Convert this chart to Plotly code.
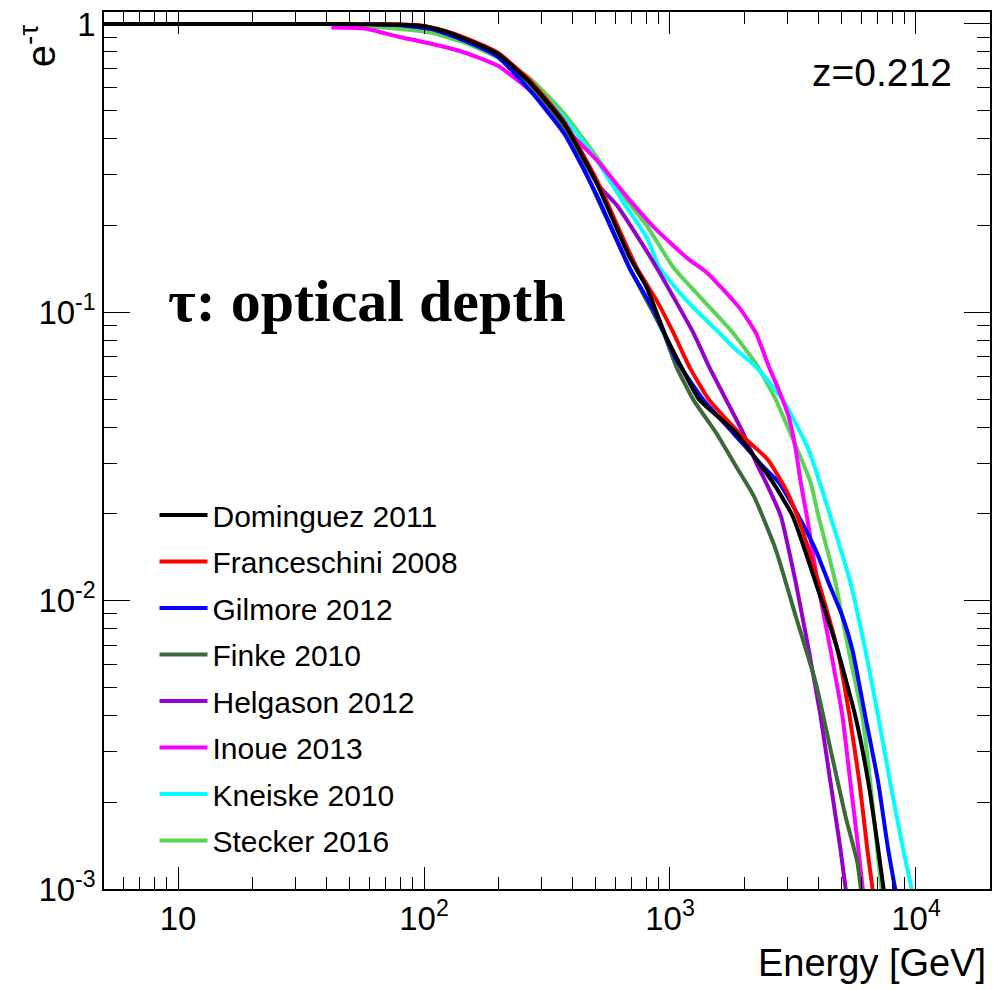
import plotly.graph_objects as go

# ---------------- data ----------------
names = ["Dominguez 2011", "Franceschini 2008", "Gilmore 2012", "Finke 2010",
         "Helgason 2012", "Inoue 2013", "Kneiske 2010", "Stecker 2016"]
colors = ["#000000", "#ff0000", "#0000ff", "#3a6a3a",
          "#9400cc", "#ff00ff", "#00ffff", "#59d454"]

e_dominguez = [5.0, 40, 60, 80, 97, 120, 146, 199, 270, 371, 504, 686, 804, 950, 1112,
               1316, 1857, 2620, 3157, 3908, 4793, 5670, 6400, 7020, 7430]
t_dominguez = [1.0, 1.0, 0.998, 0.993, 0.985, 0.945, 0.889, 0.789, 0.626, 0.452, 0.280,
               0.155, 0.122, 0.0848, 0.0647, 0.0497, 0.0382, 0.0257, 0.0196, 0.01157,
               0.00678, 0.00398, 0.00235, 0.00138, 0.000963]

e_franceschini = [57, 80, 97, 120, 146, 199, 270, 371, 504, 732, 882, 1033, 1199, 1443,
                  1910, 2500, 2958, 3337, 4018, 4793, 5370, 5890, 6340, 6700]
t_franceschini = [1.0, 0.996, 0.988, 0.950, 0.897, 0.796, 0.636, 0.459, 0.287, 0.143,
                  0.110, 0.0848, 0.0647, 0.0497, 0.0382, 0.0308, 0.0243, 0.0191, 0.01157,
                  0.00678, 0.00398, 0.00235, 0.00138, 0.000963]

e_gilmore = [60, 80, 110, 146, 199, 270, 371, 504, 686, 858, 1062, 1365, 1805, 2388,
             2770, 3337, 3908, 4410, 5024, 5510, 6220, 7020, 7700, 8300]
t_gilmore = [1.0, 0.99, 0.955, 0.875, 0.771, 0.588, 0.417, 0.255, 0.142, 0.102, 0.0684,
             0.0497, 0.0382, 0.0292, 0.0257, 0.0196, 0.0150, 0.01157, 0.00883, 0.00678,
             0.00398, 0.00235, 0.00138, 0.000963]

e_finke = [60, 80, 110, 146, 199, 270, 371, 504, 686, 804, 942, 1062, 1245, 1541, 1857,
           2195, 2694, 3246, 3908, 4490, 5168, 5775, 6000]
t_finke = [1.0, 0.993, 0.96, 0.889, 0.783, 0.617, 0.438, 0.251, 0.142, 0.110, 0.0848,
           0.0647, 0.0497, 0.0382, 0.0292, 0.0230, 0.0150, 0.00883, 0.00522, 0.00306,
           0.00179, 0.00124, 0.000963]

e_helgason = [60, 80, 110, 146, 199, 270, 371, 504, 608, 766, 882, 1245, 1443, 1692, 1982,
              2278, 2455, 2825, 3040, 3246, 3661, 4093, 4490, 4930, 5210]
t_helgason = [1.0, 0.993, 0.96, 0.889, 0.789, 0.626, 0.445, 0.280, 0.235, 0.174, 0.143,
              0.0848, 0.0647, 0.0497, 0.0382, 0.0292, 0.0257, 0.0196, 0.0150, 0.01157,
              0.00678, 0.00398, 0.00235, 0.00138, 0.000963]

e_inoue = [42, 58, 78, 106, 146, 199, 270, 371, 504, 686, 882, 1199, 1404, 1910, 2235,
           2524, 2770, 3040, 3246, 3400, 3622, 3981, 4490, 5024, 5410, 5830, 6110]
t_inoue = [0.971, 0.963, 0.905, 0.855, 0.796, 0.717, 0.588, 0.438, 0.337, 0.245, 0.193,
           0.152, 0.138, 0.104, 0.0848, 0.0647, 0.0538, 0.0434, 0.0334, 0.0257, 0.0191,
           0.01157, 0.00678, 0.00398, 0.00235, 0.00138, 0.000963]

e_kneiske = [60, 80, 110, 146, 199, 270, 371, 504, 637, 804, 906, 1167, 1585, 1857, 2235,
             2877, 3661, 4490, 5410, 6220, 7020, 7850, 8860, 9700]
t_kneiske = [1.0, 0.993, 0.96, 0.889, 0.789, 0.626, 0.474, 0.337, 0.245, 0.182, 0.143,
             0.110, 0.0848, 0.0741, 0.0647, 0.0497, 0.0334, 0.0196, 0.01157, 0.00678,
             0.00398, 0.00235, 0.00138, 0.000963]

e_stecker = [49, 78, 106, 146, 199, 270, 371, 504, 667, 804, 1033, 1365, 1805, 2278,
             2694, 3040, 3430, 3730, 4018, 4706, 5313, 6050, 6520, 6950, 7280]
t_stecker = [0.987, 0.963, 0.933, 0.862, 0.765, 0.647, 0.489, 0.345, 0.245, 0.200, 0.143,
             0.110, 0.0848, 0.0647, 0.0497, 0.0392, 0.0308, 0.0257, 0.0196, 0.01157,
             0.00678, 0.00398, 0.00235, 0.00138, 0.000963]

energies = [e_dominguez, e_franceschini, e_gilmore, e_finke,
            e_helgason, e_inoue, e_kneiske, e_stecker]
transmissions = [t_dominguez, t_franceschini, t_gilmore, t_finke,
                 t_helgason, t_inoue, t_kneiske, t_stecker]

x_tickvals = [10, 100, 1000, 10000]
x_ticktext = ["10", "10<sup>2</sup>", "10<sup>3</sup>", "10<sup>4</sup>"]
y_tickvals = [1, 0.1, 0.01, 0.001]
y_ticktext = ["1", "10<sup>-1</sup>", "10<sup>-2</sup>", "10<sup>-3</sup>"]

# ---------------- figure ----------------
SANS = "Liberation Sans, Arial, sans-serif"
fig = go.Figure()

# draw in reverse so that Dominguez (black) ends up on top
for i in reversed(range(len(names))):
    fig.add_trace(go.Scatter(
        x=energies[i], y=transmissions[i], mode="lines", name=names[i],
        line=dict(color=colors[i], width=4, shape="spline", smoothing=0.5),
        legendgroup=names[i], legendrank=i + 1,
    ))

axis_common = dict(
    type="log", showgrid=False, zeroline=False,
    showline=True, linecolor="black", linewidth=1.5, mirror="allticks",
    ticks="inside", tickcolor="black", tickwidth=1.3,
    tickfont=dict(family=SANS, size=33, color="black"),
    tickmode="array",
)

fig.update_xaxes(
    **axis_common, range=[0.69897, 4.30103], ticklen=22,
    tickvals=x_tickvals, ticktext=x_ticktext,
    minor=dict(ticks="inside", ticklen=12, dtick="D1", tickcolor="black",
               tickwidth=1.2, showgrid=False),
)
fig.update_yaxes(
    **axis_common, range=[-3, 0.0414], ticklen=26,
    tickvals=y_tickvals, ticktext=y_ticktext,
    minor=dict(ticks="inside", ticklen=13, dtick="D1", tickcolor="black",
               tickwidth=1.2, showgrid=False),
)

fig.update_layout(
    width=997, height=990,
    margin=dict(l=104, r=5, t=11, b=101),
    paper_bgcolor="white", plot_bgcolor="white",
    font=dict(family=SANS, color="black"),
    showlegend=True,
    legend=dict(
        x=0.057, y=0.4560, xanchor="left", yanchor="top",
        bgcolor="rgba(0,0,0,0)", borderwidth=0,
        font=dict(family=SANS, size=30, color="black"),
        itemwidth=48, tracegroupgap=4.5, traceorder="grouped",
    ),
    annotations=[
        dict(text="e<sup>-τ</sup>", xref="paper", yref="paper",
             x=-0.0743, y=0.961, xanchor="center", yanchor="middle",
             textangle=-90, showarrow=False,
             font=dict(family=SANS, size=40, color="black")),
        dict(text="Energy [GeV]", xref="paper", yref="paper",
             x=0.9977, y=-0.0843, xanchor="right", yanchor="middle",
             showarrow=False, font=dict(family=SANS, size=38, color="black")),
        dict(text="z=0.212", xref="paper", yref="paper",
             x=0.8784, y=0.9305, xanchor="center", yanchor="middle",
             showarrow=False, font=dict(family=SANS, size=39, color="black")),
        dict(text="<b>τ: optical depth</b>", xref="paper", yref="paper",
             x=0.2973, y=0.6708, xanchor="center", yanchor="middle",
             showarrow=False,
             font=dict(family="Liberation Serif, Times New Roman, serif",
                       size=60, color="black")),
    ],
)

fig.write_html("out.html")
